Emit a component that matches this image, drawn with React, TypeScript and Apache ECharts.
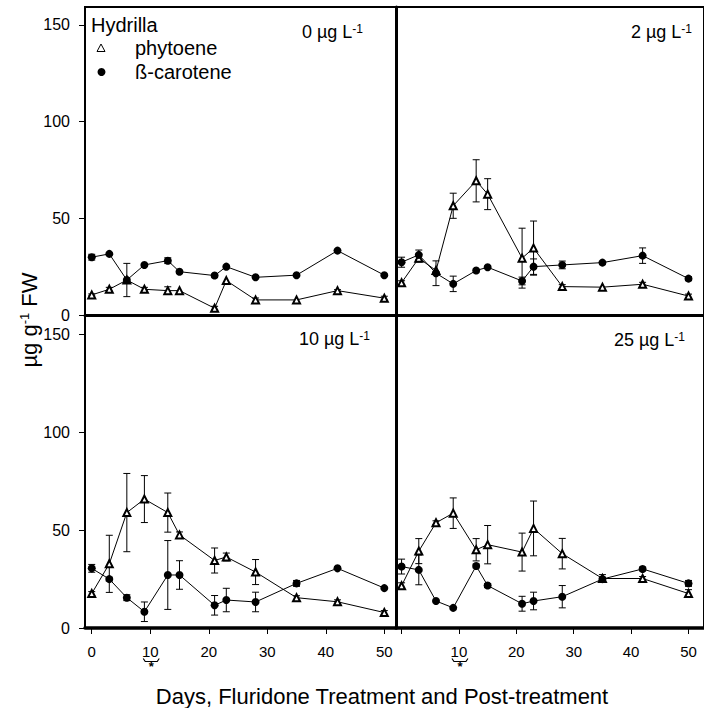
import React, { useEffect, useRef } from 'react';
import * as echarts from 'echarts';

// Sampling days (shared by all panels)
const days = [0, 3, 6, 9, 13, 15, 21, 23, 28, 35, 42, 50];

// 0 µg/L
const phytoene0 = [10.4, 13.3, 18.1, 13.3, 12.6, 12.6, 3.5, 17.8, 7.8, 7.8, 12.6, 8.7];
const phytoeneErr0 = [0.5, 1, 0, 1, 2, 0, 1, 0, 1, 0, 0.5, 1];
const carotene0 = [29.9, 31.6, 18.1, 25.9, 28.1, 22.4, 20.4, 25.0, 19.5, 20.6, 33.3, 20.6];
const caroteneErr0 = [1.5, 0, 8.6, 0, 1.5, 0, 0, 0, 0, 0, 0, 0];

// 2 µg/L
const phytoene2 = [16.7, 29.4, 23.0, 56.5, 69.4, 62.5, 29.4, 34.6, 14.7, 14.4, 15.9, 9.8];
const phytoeneErr2 = [1, 2, 0, 6.5, 10.9, 8, 15.5, 14, 1, 0, 1, 1];
const carotene2 = [27.3, 31.1, 21.6, 16.1, 23.0, 24.7, 17.6, 25.0, 25.9, 27.1, 30.7, 18.8];
const caroteneErr2 = [2.6, 2.5, 6.4, 4, 0, 0, 2, 4, 2, 0, 4, 1];

// 10 µg/L
const phytoene10 = [17.6, 32.8, 59.0, 65.9, 59.0, 47.6, 34.5, 36.3, 28.6, 15.5, 13.4, 7.9];
const phytoeneErr10 = [1, 14.6, 20, 12, 10, 1.5, 6.4, 2, 6.4, 1, 1, 1];
const carotene10 = [30.5, 25.0, 15.5, 8.3, 27.1, 27.1, 11.6, 14.3, 13.3, 22.8, 30.5, 20.4];
const caroteneErr10 = [2, 1, 1.5, 5, 17.6, 7.3, 5, 6, 5, 1.5, 0, 0];

// 25 µg/L
const phytoene25 = [21.6, 39.3, 53.8, 58.7, 40.0, 42.6, 38.8, 50.9, 38.0, 25.3, 25.3, 17.6];
const phytoeneErr25 = [1.5, 6.4, 1, 7.8, 5.7, 9.8, 9.7, 14, 7.8, 2, 1, 2];
const carotene25 = [31.4, 29.7, 13.8, 10.3, 31.7, 21.7, 12.4, 13.8, 16.0, 25.0, 30.2, 22.8];
const caroteneErr25 = [3.8, 7.6, 0, 0, 1, 1, 3.8, 4.5, 5.7, 1, 1, 1.5];

const panelLabels = ['0', '2', '10', '25'];
const yTicks = [0, 50, 100, 150];
const xTicks = [0, 10, 20, 30, 40, 50];
const xLabelsLeft = [0, 10, 20, 30, 40, 50];
const xLabelsRight = [10, 20, 30, 40, 50];
const starDay = 10;

const FONT = '"Liberation Sans", Arial, Helvetica, sans-serif';

const panels = [
  { phy: phytoene0, phyErr: phytoeneErr0, car: carotene0, carErr: caroteneErr0 },
  { phy: phytoene2, phyErr: phytoeneErr2, car: carotene2, carErr: caroteneErr2 },
  { phy: phytoene10, phyErr: phytoeneErr10, car: carotene10, carErr: caroteneErr10 },
  { phy: phytoene25, phyErr: phytoeneErr25, car: carotene25, carErr: caroteneErr25 },
];

const grids = [
  { left: 85, top: 7, width: 311, height: 308 },
  { left: 396, top: 7, width: 314, height: 308 },
  { left: 85, top: 315, width: 311, height: 313 },
  { left: 396, top: 315, width: 314, height: 313 },
];
const xRange = [
  [-1.15, 52.0],
  [-0.97, 52.7],
  [-1.15, 52.0],
  [-0.97, 52.7],
];
const yMax = [159.3, 159.3, 160, 160];

const errRender = (params: any, api: any) => {
  const x = api.value(0);
  const y = api.value(1);
  const e = api.value(2);
  const top = api.coord([x, y + e]);
  const bot = api.coord([x, y - e]);
  const w = 3.5;
  const st = { stroke: '#000', lineWidth: 1 };
  return {
    type: 'group',
    children: [
      { type: 'line', shape: { x1: top[0], y1: top[1], x2: bot[0], y2: bot[1] }, style: st },
      { type: 'line', shape: { x1: top[0] - w, y1: top[1], x2: top[0] + w, y2: top[1] }, style: st },
      { type: 'line', shape: { x1: bot[0] - w, y1: bot[1], x2: bot[0] + w, y2: bot[1] }, style: st },
    ],
  };
};

export default function App() {
  const ref = useRef<HTMLDivElement>(null);
  useEffect(() => {
    if (!ref.current) return;
    const chart = echarts.init(ref.current, null, { renderer: 'svg' });

    const xAxes: any[] = grids.map((_, i) => {
      const bottom = i >= 2;
      return {
        type: 'value',
        gridIndex: i,
        min: xRange[i][0],
        max: xRange[i][1],
        splitLine: { show: false },
        axisLine: { show: true, onZero: false, lineStyle: { color: '#000', width: bottom ? 3.5 : 3 } },
        axisTick: {
          show: bottom,
          inside: false,
          length: 6,
          customValues: xTicks,
          lineStyle: { color: '#000', width: 1 },
        },
        axisLabel: {
          show: bottom,
          customValues: i === 2 ? xLabelsLeft : xLabelsRight,
          color: '#000',
          fontSize: 15,
          fontFamily: FONT,
          margin: 16,
        },
      };
    });

    const yAxes: any[] = grids.map((_, i) => {
      const left = i % 2 === 0;
      return {
        type: 'value',
        gridIndex: i,
        min: 0,
        max: yMax[i],
        splitLine: { show: false },
        axisLine: { show: true, onZero: false, lineStyle: { color: '#000', width: left ? 2 : 3 } },
        axisTick: {
          show: left,
          inside: false,
          length: 6,
          customValues: yTicks,
          lineStyle: { color: '#000', width: 1 },
        },
        axisLabel: {
          show: left,
          customValues: yTicks,
          color: '#000',
          fontSize: 16,
          fontFamily: FONT,
          margin: 15,
        },
      };
    });

    // Helper grid spanning both rows, only to carry the shared y-axis title
    xAxes.push({ type: 'value', gridIndex: 4, show: false, min: 0, max: 1 });
    yAxes.push({
      type: 'value',
      gridIndex: 4,
      min: 0,
      max: 1,
      axisLine: { show: false },
      axisTick: { show: false },
      axisLabel: { show: false },
      splitLine: { show: false },
      name: '{a|µg g}{s|-1}{a| FW}',
      nameLocation: 'middle',
      nameGap: 45,
      nameRotate: 90,
      nameTextStyle: {
        rich: {
          a: { fontSize: 22, fontFamily: FONT, color: '#000' },
          s: { fontSize: 13, fontFamily: FONT, color: '#000', verticalAlign: 'top' },
        },
      },
    });

    const series: any[] = [];
    panels.forEach((p, i) => {
      series.push({
        type: 'line',
        name: 'phytoene',
        xAxisIndex: i,
        yAxisIndex: i,
        data: days.map((d, k) => [d, p.phy[k]]),
        symbol: 'emptyTriangle',
        symbolSize: 7,
        color: '#000',
        lineStyle: { color: '#000', width: 1, opacity: 1 },
        itemStyle: { color: '#000', borderColor: '#000', borderWidth: 1 },
        z: 3,
      });
      series.push({
        type: 'line',
        name: 'ß-carotene',
        xAxisIndex: i,
        yAxisIndex: i,
        data: days.map((d, k) => [d, p.car[k]]),
        symbol: 'circle',
        symbolSize: 8,
        color: '#000',
        lineStyle: { color: '#000', width: 1 },
        itemStyle: { color: '#000', borderWidth: 0 },
        z: 3,
      });
      series.push({
        type: 'custom',
        name: 'phytoene error',
        xAxisIndex: i,
        yAxisIndex: i,
        renderItem: errRender,
        data: days.map((d, k) => [d, p.phy[k], p.phyErr[k]]).filter((r) => r[2] > 0),
        z: 2,
      });
      series.push({
        type: 'custom',
        name: 'ß-carotene error',
        xAxisIndex: i,
        yAxisIndex: i,
        renderItem: errRender,
        data: days.map((d, k) => [d, p.car[k], p.carErr[k]]).filter((r) => r[2] > 0),
        z: 2,
      });
    });

    const gridOpts: any[] = grids.map((g) => ({
      ...g, show: true, borderColor: '#000', borderWidth: 2, backgroundColor: 'transparent',
    }));
    gridOpts.push({ left: 85, top: 7, width: 311, height: 626, show: false });

    chart.setOption({
      animation: false,
      backgroundColor: '#fff',
      grid: gridOpts,
      xAxis: xAxes,
      yAxis: yAxes,
      series,
    });

    const labelStyle = (n: string) => ({
      text: `{a|${n} µg L}{s|-1}`,
      rich: {
        a: { fontSize: 18, fontFamily: FONT, fill: '#000' },
        s: { fontSize: 12, fontFamily: FONT, fill: '#000', verticalAlign: 'top' },
      },
      align: 'right',
      verticalAlign: 'middle',
    });

    const graphics: any[] = [
      { type: 'text', x: 363, y: 32, style: labelStyle(panelLabels[0]) },
      { type: 'text', x: 692, y: 32, style: labelStyle(panelLabels[1]) },
      { type: 'text', x: 370, y: 339, style: labelStyle(panelLabels[2]) },
      { type: 'text', x: 685, y: 340, style: labelStyle(panelLabels[3]) },
      {
        type: 'text', x: 91, y: 25,
        style: { text: 'Hydrilla', fontSize: 20, fontFamily: FONT, fill: '#000', align: 'left', verticalAlign: 'middle' },
      },
      {
        type: 'polygon',
        shape: { points: [[101, 44], [105, 51.5], [97, 51.5]] },
        style: { fill: '#fff', stroke: '#000', lineWidth: 1 },
      },
      {
        type: 'text', x: 135, y: 48,
        style: { text: 'phytoene', fontSize: 20, fontFamily: FONT, fill: '#000', align: 'left', verticalAlign: 'middle' },
      },
      { type: 'circle', shape: { cx: 101.5, cy: 72, r: 4 }, style: { fill: '#000' } },
      {
        type: 'text', x: 135, y: 72,
        style: { text: 'ß-carotene', fontSize: 20, fontFamily: FONT, fill: '#000', align: 'left', verticalAlign: 'middle' },
      },
      {
        type: 'text', x: 382, y: 696,
        style: {
          text: 'Days, Fluridone Treatment and Post-treatment',
          fontSize: 22, fontFamily: FONT, fill: '#000', align: 'center', verticalAlign: 'middle',
        },
      },
    ];

    [2, 3].forEach((ai) => {
      const px = chart.convertToPixel({ xAxisIndex: ai } as any, starDay) as unknown as number;
      const cx = px + 1;
      graphics.push({
        type: 'polyline',
        shape: { points: [[cx - 8, 658.5], [cx - 6, 661.5], [cx + 6, 661.5], [cx + 8, 658.5]] },
        style: { stroke: '#000', lineWidth: 1.2, fill: 'none' },
      });
      graphics.push({
        type: 'text', x: cx, y: 660,
        style: { text: '*', fontSize: 13, fontWeight: 'bold', fontFamily: FONT, fill: '#000', align: 'center', verticalAlign: 'top' },
      });
    });

    chart.setOption({ graphic: graphics });

    return () => chart.dispose();
  }, []);

  return <div ref={ref} style={{ position: 'absolute', left: 0, top: 0, width: 704, height: 708 }} />;
}
